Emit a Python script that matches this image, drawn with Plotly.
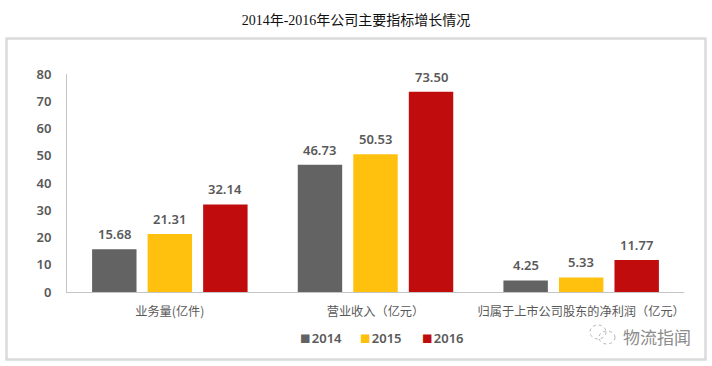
import plotly.graph_objects as go

categories = ["业务量(亿件)", "营业收入（亿元）", "归属于上市公司股东的净利润（亿元）"]
years = ["2014", "2015", "2016"]
v2014 = [15.68, 46.73, 4.25]
v2015 = [21.31, 50.53, 5.33]
v2016 = [32.14, 73.50, 11.77]
colors = ["#636363", "#FFC00E", "#C00C0C"]
y_ticks = [0, 10, 20, 30, 40, 50, 60, 70, 80]
title_text = "2014年-2016年公司主要指标增长情况"
watermark = "物流指闻"

W, H = 712, 366
L, R, T, B = 67, 28, 74, 74
TXT = "#595959"
SANS = "'Noto Sans', 'Noto Sans CJK SC', sans-serif"


def px(x):
    return (x - L) / (W - L - R)


def py(y):
    return 1 - (y - T) / (H - T - B)


fig = go.Figure()
annotations = []
for i, (year, vals, col) in enumerate(zip(years, [v2014, v2015, v2016], colors)):
    fig.add_trace(go.Bar(name=year, x=categories, y=vals, marker=dict(color=col, line=dict(width=0))))
    for cat, v in zip(categories, vals):
        annotations.append(dict(
            x=cat, y=v, xref="x", yref="y", text=f"{v:.2f}", showarrow=False,
            xanchor="center", yanchor="middle", xshift=(i - 1) * 55.6, yshift=15,
            font=dict(family=SANS, size=13, color=TXT, weight=600)))

shapes = [dict(type="rect", xref="paper", yref="paper", x0=px(6.5), x1=px(705.5), y0=py(38.5), y1=py(359.5),
               line=dict(color="#DADADA", width=2.5), fillcolor="rgba(0,0,0,0)", layer="below")]

legend_x = [298, 358, 420]
for year, col, lx in zip(years, colors, legend_x):
    annotations.append(dict(
        xref="paper", yref="paper", x=px(lx), y=py(338), xanchor="left", yanchor="middle", showarrow=False,
        text=f"<span style='color:{col};font-size:10.5px'>■</span>\u200a{year}",
        font=dict(family=SANS, size=13, color=TXT, weight=600)))

annotations.append(dict(xref="paper", yref="paper", x=px(621), y=py(336), xanchor="left", yanchor="middle",
                        showarrow=False, text=watermark,
                        font=dict(family="'Noto Sans CJK SC'", size=17, color="#8C8C8C")))

# WeChat-style watermark glyph
shapes += [
    dict(type="circle", xref="paper", yref="paper", x0=px(590), x1=px(606), y0=py(325), y1=py(339),
         line=dict(color="#B5B5B5", width=1, dash="dot"), layer="above"),
    dict(type="circle", xref="paper", yref="paper", x0=px(599), x1=px(615), y0=py(331), y1=py(344),
         line=dict(color="#B5B5B5", width=1, dash="dot"), layer="above"),
]

fig.update_layout(
    width=W, height=H, margin=dict(l=L, r=R, t=T, b=B, pad=0),
    paper_bgcolor="white", plot_bgcolor="white",
    barmode="group", bargap=0.19, bargroupgap=0.2, showlegend=False,
    title=dict(text=title_text, x=0.5, xref="container", xanchor="center", y=1 - 20 / H, yref="container", yanchor="middle",
               font=dict(family="'Liberation Serif', 'Noto Sans CJK SC', serif", size=14, color="#111111")),
    xaxis=dict(showline=True, linecolor="#C4C4C4", linewidth=1, showgrid=False, ticks="", zeroline=False,
               ticklabelstandoff=8,
               tickfont=dict(family="'Noto Sans CJK SC'", size=12.2, color=TXT), automargin=False),
    yaxis=dict(range=[0, 80], tickvals=y_ticks, showline=True, linecolor="#C4C4C4", linewidth=1, showgrid=False,
               ticks="", zeroline=False, automargin=False, ticklabelstandoff=12,
               tickfont=dict(family=SANS, size=13, color=TXT, weight=600)),
    shapes=shapes, annotations=annotations,
    font=dict(family=SANS),
)
fig.write_html("out.html", config=dict(displayModeBar=False),
               post_script="document.body.style.margin='0';")
